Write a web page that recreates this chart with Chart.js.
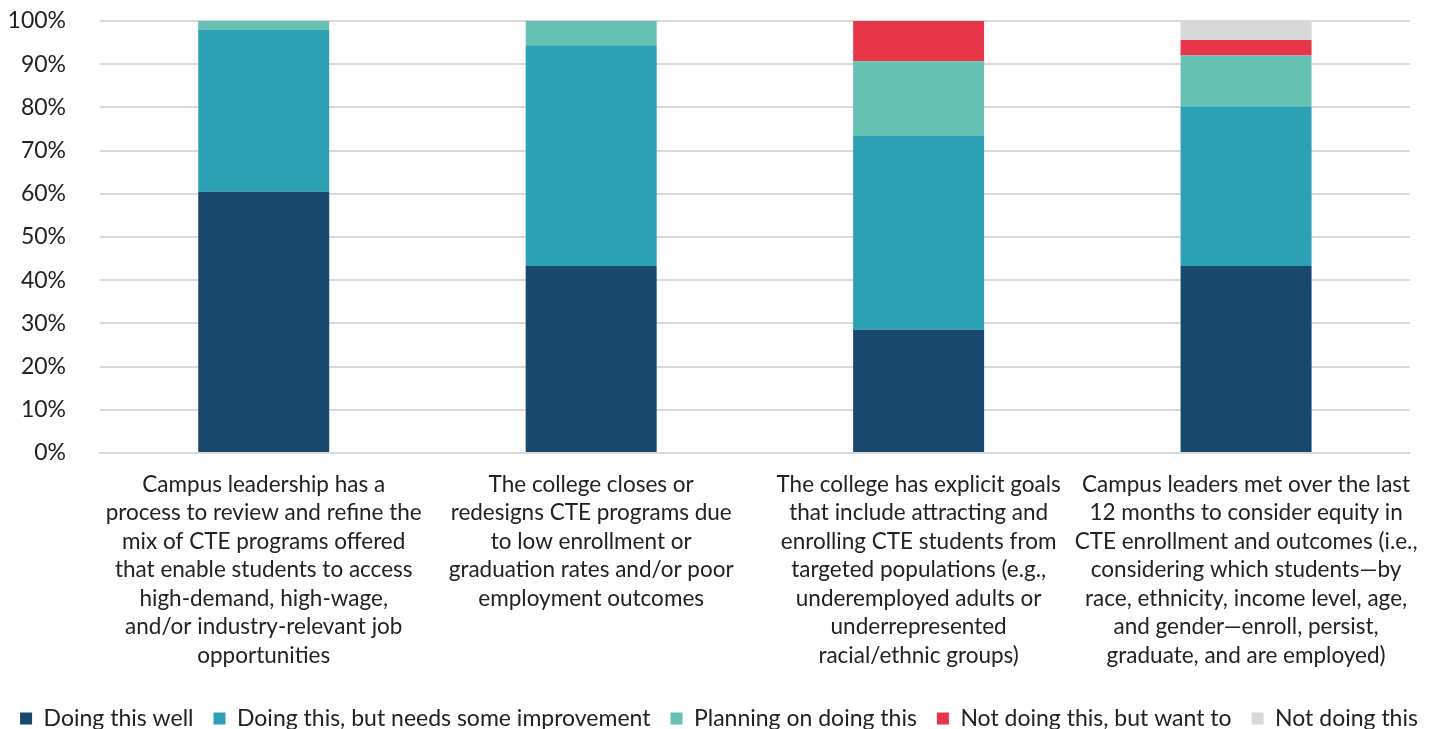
<!DOCTYPE html>
<html>
<head>
<meta charset="utf-8">
<script src="https://cdn.jsdelivr.net/npm/chart.js@4"></script>
<style>
  html, body { margin: 0; padding: 0; background: #fff; }
  #wrap { width: 1438px; height: 729px; }
</style>
</head>
<body>
<div id="wrap"><canvas id="mychart"></canvas></div>
<script>
const categories = [
  ["Campus leadership has a", "process to review and refine the", "mix of CTE programs offered", "that enable students to access", "high-demand, high-wage,", "and/or industry-relevant job", "opportunities"],
  ["The college closes or", "redesigns CTE programs due", "to low enrollment or", "graduation rates and/or poor", "employment outcomes"],
  ["The college has explicit goals", "that include attracting and", "enrolling CTE students from", "targeted populations (e.g.,", "underemployed adults or", "underrepresented", "racial/ethnic groups)"],
  ["Campus leaders met over the last", "12 months to consider equity in", "CTE enrollment and outcomes (i.e.,", "considering which students\u2014by", "race, ethnicity, income level, age,", "and gender\u2014enroll, persist,", "graduate, and are employed)"]
];
const doingWell = [60.5, 43.3, 28.5, 43.3];
const needsImprovement = [37.5, 51.1, 45.0, 36.9];
const planning = [2.0, 5.6, 17.2, 11.8];
const notButWant = [0, 0, 9.3, 3.6];
const notDoing = [0, 0, 0, 4.4];
const yTicks = [0, 10, 20, 30, 40, 50, 60, 70, 80, 90, 100];

const canvas = document.getElementById('mychart');

const grafico = new Chart(canvas, {
  type: 'bar',
  data: {
    labels: categories,
    datasets: [
      { label: 'Doing this well', data: doingWell, backgroundColor: '#19486d' },
      { label: 'Doing this, but needs some improvement', data: needsImprovement, backgroundColor: '#2ca1b4' },
      { label: 'Planning on doing this', data: planning, backgroundColor: '#65c1b1' },
      { label: 'Not doing this, but want to', data: notButWant, backgroundColor: '#e7364a' },
      { label: 'Not doing this', data: notDoing, backgroundColor: '#d8d8d8' }
    ]
  },
  options: {
    responsive: true,
    maintainAspectRatio: false,
    animation: false,
    datasets: { bar: { categoryPercentage: 0.4, barPercentage: 1.0 } },
    layout: { padding: { left: 0, right: 0, top: 21, bottom: -11 } },
    plugins: {
      tooltip: { enabled: false },
      legend: {
        position: 'bottom',
        labels: {
          font: { family: 'Lato', size: 23 },
          color: '#222',
          boxWidth: 12,
          boxHeight: 12,
          padding: 20
        }
      }
    },
    scales: {
      x: {
        stacked: true,
        grid: { display: false, drawTicks: false },
        border: { color: '#d9d9d9', width: 2 },
        ticks: {
          font: { family: 'Lato', size: 22.5, lineHeight: 1.27 },
          color: '#222',
          maxRotation: 0,
          autoSkip: false,
          padding: 17
        }
      },
      y: {
        stacked: true,
        min: 0,
        max: 100,
        afterBuildTicks: axis => { axis.ticks = yTicks.map(v => ({ value: v })); },
        afterFit: axis => { axis.width = 100; },
        grid: { color: '#d9d9d9', lineWidth: 2, drawTicks: true, tickLength: 30, tickColor: 'rgba(0,0,0,0)' },
        border: { display: false },
        ticks: {
          font: { family: 'Lato', size: 23 },
          color: '#222',
          padding: 4,
          callback: v => v + '%'
        }
      },
      yRight: {
        position: 'right',
        grid: { display: false, drawTicks: false },
        border: { display: false },
        ticks: { display: false },
        afterFit: axis => { axis.width = 28; }
      }
    }
  }
});
</script>
</body>
</html>
